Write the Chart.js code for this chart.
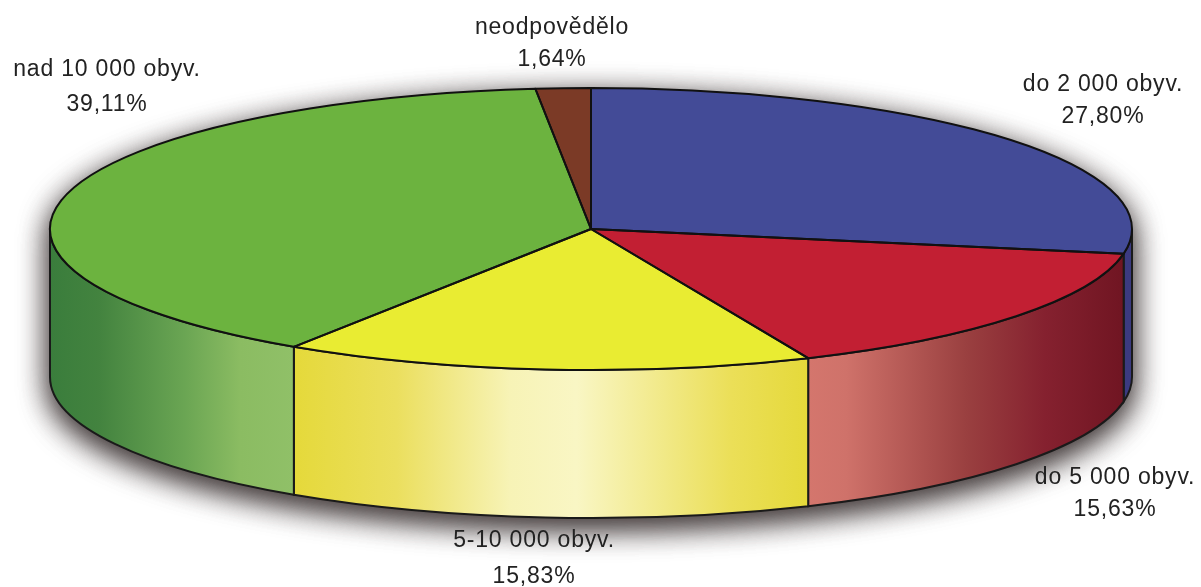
<!DOCTYPE html>
<html lang="cs">
<head>
<meta charset="utf-8">
<title>Velikost obce</title>
<script src="https://cdn.jsdelivr.net/npm/chart.js@4"></script>
<style>
    html, body { margin: 0; padding: 0; background: #fff; overflow: hidden; }
    canvas { display: block; }
</style>
</head>
<body>
<canvas id="pieChart" width="1201" height="587"></canvas>
<script>
// Data
const categories = ['do 2 000 obyv.', 'do 5 000 obyv.', '5-10 000 obyv.', 'nad 10 000 obyv.', 'neodpovědělo'];
const shares = [27.80, 15.63, 15.83, 39.11, 1.64];

// Look of the tilted pie
const topColors = ['#434b97', '#c21f33', '#e9ec32', '#6cb33f', '#7b3a26'];
const wallStops = [
    [[0, '#3b3a80'], [1, '#3b3a80']],
    [[0, '#d4766d'], [0.12, '#cf726a'], [0.5, '#9a4040'], [0.75, '#85212f'], [1, '#701522']],
    [[0, '#e5d93a'], [0.2, '#ebdf5e'], [0.42, '#f7f3b6'], [0.55, '#f9f6c4'], [0.85, '#ebdf58'], [1, '#e5d93a']],
    [[0, '#3a7d3c'], [0.2, '#43833f'], [0.55, '#6aa553'], [0.78, '#8bbc62'], [1, '#90c068']],
    [[0, '#5c2a1c'], [1, '#5c2a1c']]
];
const labelCenters = [[1103, 85], [1115, 478], [534, 541], [107, 70], [552, 28]];
const labelGap = [32, 32, 36, 35, 32];

const RADIUS = 541;
const SQUASH = 141 / 541;
const DEPTH = 148;

function formatShare(value) {
    return value.toFixed(2).replace('.', ',') + '%';
}

// One arc of the tilted top edge, as part of the current path
function ellipseArc(ctx, arc, start, end, dy, back) {
    ctx.ellipse(arc.x, arc.y + dy, arc.outerRadius, arc.outerRadius * SQUASH, 0, start, end, back);
}

function drawWalls(chart, ctx) {
    const arcs = chart.getDatasetMeta(0).data;
    const first = arcs[0];

    // Soft shadow under the whole body, twice so it gets dark enough near the edge
    ctx.save();
    ctx.shadowColor = 'rgba(50, 40, 40, 0.75)';
    ctx.shadowBlur = 30;
    ctx.shadowOffsetY = 9;
    ctx.fillStyle = '#444';
    for (let pass = 0; pass < 2; pass++) {
        ctx.beginPath();
        ellipseArc(ctx, first, Math.PI, Math.PI * 2, 0, false);
        ellipseArc(ctx, first, 0, Math.PI, DEPTH, false);
        ctx.closePath();
        ctx.fill();
    }
    ctx.restore();

    arcs.forEach((arc, i) => {
        const start = Math.max(arc.startAngle, 0);
        const end = Math.min(arc.endAngle, Math.PI);
        if (start >= end) return;
        const x0 = arc.x + arc.outerRadius * Math.cos(end);
        const x1 = arc.x + arc.outerRadius * Math.cos(start);
        const gradient = ctx.createLinearGradient(x0, 0, x1, 0);
        wallStops[i].forEach(stop => gradient.addColorStop(stop[0], stop[1]));

        ctx.beginPath();
        ellipseArc(ctx, arc, start, end, 0, false);
        ellipseArc(ctx, arc, end, start, DEPTH, true);
        ctx.closePath();
        ctx.fillStyle = gradient;
        ctx.fill();
        ctx.lineWidth = 2;
        ctx.strokeStyle = '#1a1a1a';
        ctx.stroke();
    });
}

function drawTopOutlines(chart, ctx) {
    chart.getDatasetMeta(0).data.forEach(arc => {
        ctx.beginPath();
        ctx.moveTo(arc.x, arc.y);
        ellipseArc(ctx, arc, arc.startAngle, arc.endAngle, 0, false);
        ctx.closePath();
        ctx.lineWidth = 2;
        ctx.lineJoin = 'round';
        ctx.strokeStyle = '#111';
        ctx.stroke();
    });
}

const tiltPlugin = {
    id: 'tilt',
    beforeDatasetsDraw(chart) {
        const ctx = chart.ctx;
        const arc = chart.getDatasetMeta(0).data[0];
        drawWalls(chart, ctx);
        // The library draws the slices, only squashed
        ctx.save();
        ctx.translate(arc.x, arc.y);
        ctx.scale(1, SQUASH);
        ctx.translate(-arc.x, -arc.y);
    },
    afterDatasetsDraw(chart) {
        chart.ctx.restore();
        drawTopOutlines(chart, chart.ctx);
    },
    afterDraw(chart) {
        const ctx = chart.ctx;
        ctx.save();
        ctx.font = '23px "Liberation Sans", Arial, sans-serif';
        ctx.letterSpacing = '0.8px';
        ctx.fillStyle = '#222';
        ctx.textAlign = 'center';
        ctx.textBaseline = 'middle';
        categories.forEach((name, i) => {
            const [x, y] = labelCenters[i];
            ctx.fillText(name, x, y);
            ctx.fillText(formatShare(shares[i]), x, y + labelGap[i]);
        });
        ctx.restore();
    }
};

new Chart(document.getElementById('pieChart').getContext('2d'), {
    type: 'pie',
    data: {
        labels: categories,
        datasets: [{
            data: shares,
            backgroundColor: topColors,
            borderWidth: 0,
            clip: false
        }]
    },
    options: {
        responsive: false,
        animation: false,
        events: [],
        radius: RADIUS,
        layout: { padding: { right: 19, bottom: 129 } },
        plugins: {
            legend: { display: false },
            tooltip: { enabled: false }
        }
    },
    plugins: [tiltPlugin]
});
</script>
</body>
</html>
